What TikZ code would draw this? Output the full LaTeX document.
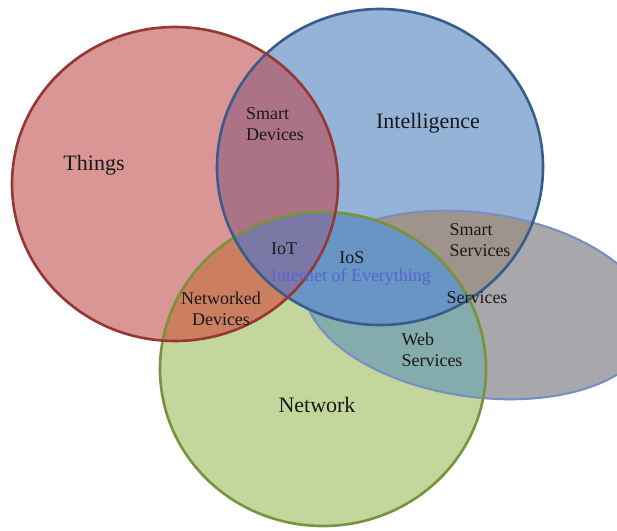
\documentclass[tikz,border=0pt]{standalone}
\usepackage{fontspec}
\setmainfont{Liberation Serif}

\definecolor{thingsfill}{RGB}{217,150,148}
\definecolor{intelfill}{RGB}{149,179,215}
\definecolor{netfill}{RGB}{195,214,155}
\definecolor{servfill}{RGB}{168,168,172}
\definecolor{smartdevfill}{RGB}{172,115,134}
\definecolor{netdevfill}{RGB}{203,126,96}
\definecolor{iotfill}{RGB}{124,120,166}
\definecolor{iosfill}{RGB}{104,149,196}
\definecolor{smartsrvfill}{RGB}{158,148,140}
\definecolor{websrvfill}{RGB}{132,172,172}
\definecolor{thingsline}{RGB}{149,55,53}
\definecolor{intelline}{RGB}{56,93,138}
\definecolor{netline}{RGB}{119,147,60}
\definecolor{servline}{RGB}{118,142,196}
\definecolor{ioetext}{RGB}{84,100,214}

\newcommand{\thingsarea}{(175,347) ellipse [x radius=163, y radius=157]}
\newcommand{\intelarea}{(380,364) ellipse [x radius=163, y radius=158]}
\newcommand{\networkarea}{(323,162) ellipse [x radius=163, y radius=157]}
\newcommand{\servicearea}{(478,226) ellipse [x radius=175, y radius=92, rotate=-8]}

\tikzset{
  biglabel/.style={font=\fontsize{11}{13}\selectfont, text=black!90},
  smalllabel/.style={font=\fontsize{9}{10.5}\selectfont, text=black!90, align=left},
}

\begin{document}
\begin{tikzpicture}[x=0.5pt,y=0.5pt]
\useasboundingbox (0,0) rectangle (617,531);

% single sets
\fill[servfill] \servicearea;
\fill[netfill] \networkarea;
\fill[intelfill] \intelarea;
\fill[thingsfill] \thingsarea;

% two sets
\begin{scope} \clip \intelarea; \fill[smartsrvfill] \servicearea; \end{scope}
\begin{scope} \clip \networkarea; \fill[websrvfill] \servicearea; \end{scope}
\begin{scope} \clip \thingsarea; \fill[smartdevfill] \intelarea; \end{scope}
\begin{scope} \clip \thingsarea; \fill[netdevfill] \networkarea; \end{scope}

\draw[servline, line width=1pt] \servicearea;

\begin{scope} \clip \intelarea; \fill[iosfill] \networkarea; \end{scope}

% three sets
\begin{scope} \clip \thingsarea; \clip \intelarea; \fill[iotfill] \networkarea; \end{scope}

% outlines
\draw[netline, line width=1.3pt] \networkarea;
\draw[intelline, line width=1.3pt] \intelarea;
\draw[thingsline, line width=1.3pt] \thingsarea;

\node[biglabel] (things) at (94,366) {Things};
\node[biglabel] (intel) at (428,408) {Intelligence};
\node[biglabel] (network) at (317,126) {Network};

\node[smalllabel] (smartdev) at (275,407) {Smart\\Devices};
\node[smalllabel, align=center] (netdev) at (221,222) {Networked\\Devices};
\node[smalllabel] (iot) at (284,282) {IoT};
\node[smalllabel] (ios) at (352,273) {IoS};
\node[smalllabel, text=ioetext] (ioe) at (351,254) {Internet of Everything};
\node[smalllabel] (smartsrv) at (480,291) {Smart\\Services};
\node[smalllabel] (srv) at (477,233) {Services};
\node[smalllabel] (websrv) at (432,181) {Web\\Services};
\end{tikzpicture}
\end{document}
